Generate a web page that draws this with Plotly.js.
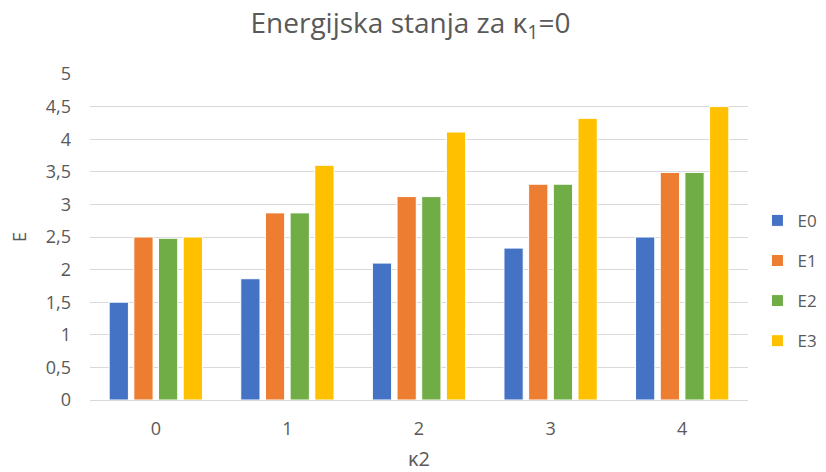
<!DOCTYPE html>
<html>
<head>
<meta charset="utf-8">
<script src="https://cdn.plot.ly/plotly-3.0.1.min.js"></script>
<style>html,body{margin:0;padding:0;background:#fff}#chart{width:826px;height:472px}</style>
</head>
<body>
<div id="chart"></div>
<script>
const categories = ['0', '1', '2', '3', '4'];
const seriesNames = ['E0', 'E1', 'E2', 'E3'];
const E0 = [1.5, 1.86, 2.1, 2.33, 2.5];
const E1 = [2.5, 2.87, 3.12, 3.31, 3.49];
const E2 = [2.48, 2.87, 3.12, 3.31, 3.49];
const E3 = [2.5, 3.6, 4.11, 4.32, 4.5];
const colors = ['#4472C4', '#ED7D31', '#70AD47', '#FFC000'];
const yTickVals = [0, 0.5, 1, 1.5, 2, 2.5, 3, 3.5, 4, 4.5, 5];
const yTickText = ['0', '0,5', '1', '1,5', '2', '2,5', '3', '3,5', '4', '4,5', '5'];

const values = [E0, E1, E2, E3];
const font = 'Open Sans, Noto Sans, sans-serif';
const traces = values.map((v, i) => ({
  type: 'bar',
  name: seriesNames[i],
  x: categories,
  y: v,
  legendgroup: 'g' + i,
  marker: {color: colors[i], line: {color: '#ffffff', width: 1}},
  hoverinfo: 'x+y+name'
}));

const layout = {
  width: 826, height: 472,
  margin: {l: 90, r: 78, t: 74, b: 72},
  paper_bgcolor: '#ffffff', plot_bgcolor: '#ffffff',
  font: {family: font, color: '#595959', size: 17},
  title: {text: 'Energijska stanja za κ<sub>1</sub>=0', x: 0.497, xanchor: 'center', y: 0.95, yanchor: 'middle',
          font: {family: font, size: 28, color: '#595959'}},
  barmode: 'group', bargap: 0.25, bargroupgap: 0.22,
  xaxis: {
    type: 'category', showgrid: false, showline: true, linecolor: '#d9d9d9', linewidth: 1,
    ticks: '', tickfont: {size: 18, color: '#595959'}, ticklabelstandoff: 12,
    title: {text: 'κ2', font: {size: 20, color: '#595959'}, standoff: 18}
  },
  yaxis: {
    range: [0, 5], tickvals: yTickVals, ticktext: yTickText,
    showgrid: true, gridcolor: '#d9d9d9', gridwidth: 1, zeroline: false,
    showline: false, ticks: '', tickfont: {size: 18, color: '#595959'}, ticklabelstandoff: 18,
    title: {text: 'E', font: {size: 18, color: '#595959'}, standoff: 14}
  },
  legend: {xref: 'container', yref: 'container', x: 0.917, xanchor: 'left', y: 0.405, yanchor: 'middle',
           tracegroupgap: 15, font: {size: 17, color: '#595959'}},
  showlegend: true
};

Plotly.newPlot('chart', traces, layout, {displayModeBar: false, staticPlot: true});
</script>
</body>
</html>
